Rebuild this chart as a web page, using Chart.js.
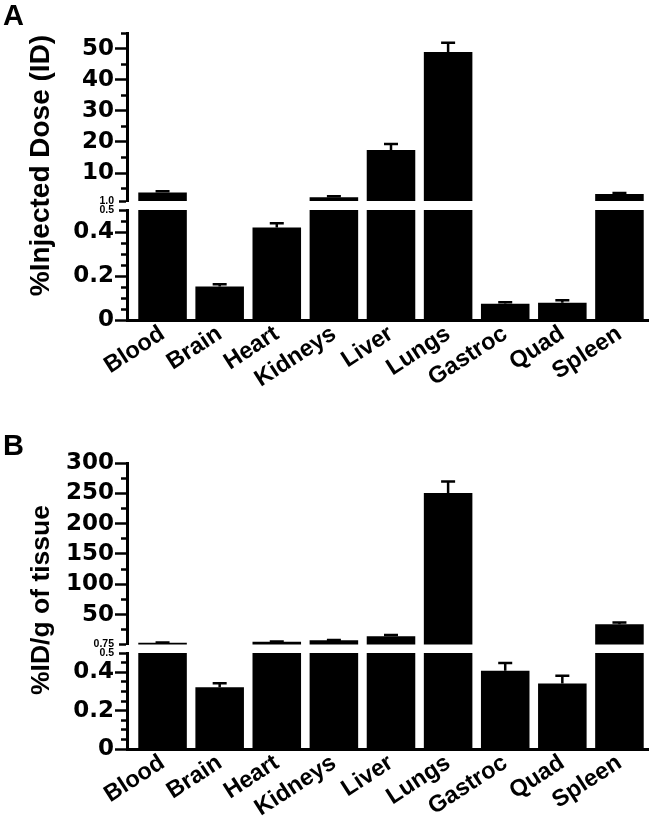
<!DOCTYPE html>
<html>
<head>
<meta charset="utf-8">
<script src="https://cdn.jsdelivr.net/npm/chart.js@4.4.1/dist/chart.umd.min.js"></script>
<style>
  body { margin: 0; background: #fff; }
  #wrap { position: relative; width: 664px; height: 837px; }
  canvas { position: absolute; left: 0; }
</style>
</head>
<body>
<div id="wrap">
  <canvas id="doseUpper" width="664" height="430" style="top:0"></canvas>
  <canvas id="doseLower" width="664" height="430" style="top:0"></canvas>
  <canvas id="tissueUpper" width="664" height="407" style="top:430px"></canvas>
  <canvas id="tissueLower" width="664" height="407" style="top:430px"></canvas>
</div>
<script>
// Data
const organs = ['Blood', 'Brain', 'Heart', 'Kidneys', 'Liver', 'Lungs', 'Gastroc', 'Quad', 'Spleen'];

const doseMean = [3.7, 0.152, 0.42, 2.2, 17.4, 48.9, 0.074, 0.078, 3.25];
const doseErr = [0.45, 0.01, 0.02, 0.3, 1.9, 3.0, 0.007, 0.012, 0.35];

const tissueMean = [3.7, 0.322, 5.4, 7.7, 14.3, 250.7, 0.408, 0.341, 34.2];
const tissueErr = [0.3, 0.021, 0.4, 0.5, 2.2, 18.9, 0.04, 0.04, 2.7];

// Broken y axes: upper and lower segment ticks
const doseUpperTicks = [1, 5, 10, 15, 20, 25, 30, 35, 40, 45, 50, 55];
const doseUpperLabels = ['1.0', '', '10', '', '20', '', '30', '', '40', '', '50', ''];
const tissueUpperTicks = [0.75, 25, 50, 75, 100, 125, 150, 175, 200, 225, 250, 275, 300];
const tissueUpperLabels = ['0.75', '', '50', '', '100', '', '150', '', '200', '', '250', '', '300'];
const lowerTicks = [0, 0.05, 0.1, 0.15, 0.2, 0.25, 0.3, 0.35, 0.4, 0.45, 0.5];
const lowerLabels = ['0', '', '', '', '0.2', '', '', '', '0.4', '', '0.5'];

const ARIAL = 'Arial, "Liberation Sans", sans-serif';
const bigTickFont = { family: '"DejaVu Sans", sans-serif', size: 23, weight: 'bold' };
const smallTickFont = { family: ARIAL, size: 10.5, weight: 'bold' };
const TICK_LEN = 12;

// top whisker of the error bars
const errorBars = {
    id: 'errorBars',
    afterDatasetsDraw(chart, args, opts) {
        const { ctx, chartArea: a } = chart;
        const y = chart.scales.y;
        const bars = chart.getDatasetMeta(0).data;
        const means = chart.data.datasets[0].data;
        ctx.save();
        ctx.beginPath();
        ctx.rect(a.left, a.top - 2, a.right - a.left, a.bottom - a.top + 2);
        ctx.clip();
        ctx.strokeStyle = '#000';
        ctx.lineWidth = 2.5;
        means.forEach((m, i) => {
            if (m === null || m <= y.min || m > y.max) return;
            const x = bars[i].x;
            const yTop = y.getPixelForValue(m + opts.errors[i]);
            ctx.beginPath();
            ctx.moveTo(x, y.getPixelForValue(m));
            ctx.lineTo(x, yTop);
            ctx.moveTo(x - 7, yTop);
            ctx.lineTo(x + 7, yTop);
            ctx.stroke();
        });
        ctx.restore();
    }
};

// the y axis sits a few px left of the first category slot
const shiftAxis = {
    id: 'shiftAxis',
    afterLayout(chart, args, opts) {
        const { x, y } = chart.scales;
        y.left -= opts.by;
        y.right -= opts.by;
        x.left -= opts.by;
    }
};

// rotated y title spanning both segments of a panel
const sideTitle = {
    id: 'sideTitle',
    afterDraw(chart, args, opts) {
        const ctx = chart.ctx;
        ctx.save();
        ctx.translate(opts.x, opts.y);
        ctx.rotate(-Math.PI / 2);
        ctx.font = opts.font;
        ctx.fillStyle = '#000';
        ctx.textAlign = 'center';
        ctx.textBaseline = 'middle';
        ctx.fillText(opts.text, 0, 0);
        ctx.restore();
    }
};

function tickLength(labels, breakIndex, i) {
    if (i === undefined || labels[i] === undefined) return TICK_LEN;
    if (i === breakIndex) return 8;
    return labels[i] === '' ? 6 : TICK_LEN;
}

function segment(canvasId, o) {
    const len = i => tickLength(o.labels, o.breakIndex, i);
    const plugins = [errorBars, shiftAxis];
    if (o.sideTitle) plugins.push(sideTitle);

    return new Chart(document.getElementById(canvasId), {
        type: 'bar',
        data: {
            labels: organs,
            datasets: [{
                // bars below this segment's floor belong to the other segment
                data: o.means.map(v => (v >= o.ticks[0] ? v : null)),
                backgroundColor: '#000',
                borderWidth: 0,
                barPercentage: 0.85,
                categoryPercentage: 1,
                clip: 0
            }]
        },
        options: {
            responsive: false,
            animation: false,
            events: [],
            layout: { padding: o.padding },
            plugins: {
                legend: { display: false },
                tooltip: { enabled: false },
                title: o.letter ? {
                    display: true,
                    text: o.letter,
                    align: 'start',
                    color: '#000',
                    font: { family: ARIAL, size: 29, weight: 'bold', lineHeight: 31.5 / 29 },
                    padding: { top: 1.5, bottom: 0 }
                } : { display: false },
                errorBars: { errors: o.errors },
                shiftAxis: { by: 7 },
                sideTitle: o.sideTitle || {}
            },
            scales: {
                x: o.showX ? {
                    border: { display: true, color: '#000', width: 3 },
                    grid: { display: false, drawTicks: false },
                    ticks: {
                        color: '#000',
                        font: { family: ARIAL, size: 23.5, weight: 'bold' },
                        minRotation: 33,
                        maxRotation: 33,
                        autoSkip: false,
                        padding: 0
                    },
                    afterFit: s => { s.height = o.xHeight; }
                } : { display: false },
                y: {
                    min: o.ticks[0],
                    max: o.ticks[o.ticks.length - 1],
                    afterBuildTicks: s => { s.ticks = o.ticks.map(v => ({ value: v })); },
                    afterFit: s => { s.width = 131; },
                    border: { display: true, color: '#000', width: 3 },
                    grid: {
                        display: true,
                        drawOnChartArea: false,
                        drawTicks: true,
                        tickLength: TICK_LEN,
                        tickWidth: 2.5,
                        tickColor: '#000',
                        tickBorderDash: c => len(c.index) === TICK_LEN ? [] : [len(c.index), TICK_LEN - len(c.index)],
                        tickBorderDashOffset: c => len(c.index) === TICK_LEN ? 0 : len(c.index)
                    },
                    ticks: {
                        autoSkip: false,
                        padding: 1,
                        color: '#000',
                        callback: (v, i) => o.labels[i],
                        font: c => c.index === o.breakIndex ? smallTickFont : bigTickFont
                    }
                }
            }
        },
        plugins: plugins
    });
}

// Panel A: %Injected Dose
segment('doseUpper', {
    means: doseMean, errors: doseErr,
    ticks: doseUpperTicks, labels: doseUpperLabels, breakIndex: 0,
    padding: { left: 3, right: 16, top: 0, bottom: 229 },
    letter: 'A',
    sideTitle: { text: '%Injected Dose (ID)', x: 41.5, y: 165.5, font: 'bold 28px ' + ARIAL }
});
segment('doseLower', {
    means: doseMean, errors: doseErr,
    ticks: lowerTicks, labels: lowerLabels, breakIndex: lowerTicks.length - 1,
    padding: { left: 3, right: 16, top: 210, bottom: 10 },
    showX: true, xHeight: 100
});

// Panel B: %ID/g of tissue
segment('tissueUpper', {
    means: tissueMean, errors: tissueErr,
    ticks: tissueUpperTicks, labels: tissueUpperLabels, breakIndex: 0,
    padding: { left: 3, right: 16, top: 0, bottom: 192.5 },
    letter: 'B',
    sideTitle: { text: '%ID/g of tissue', x: 41.5, y: 170, font: 'bold 26.5px ' + ARIAL }
});
segment('tissueLower', {
    means: tissueMean, errors: tissueErr,
    ticks: lowerTicks, labels: lowerLabels, breakIndex: lowerTicks.length - 1,
    padding: { left: 3, right: 16, top: 223, bottom: 8 },
    showX: true, xHeight: 80
});
</script>
</body>
</html>
